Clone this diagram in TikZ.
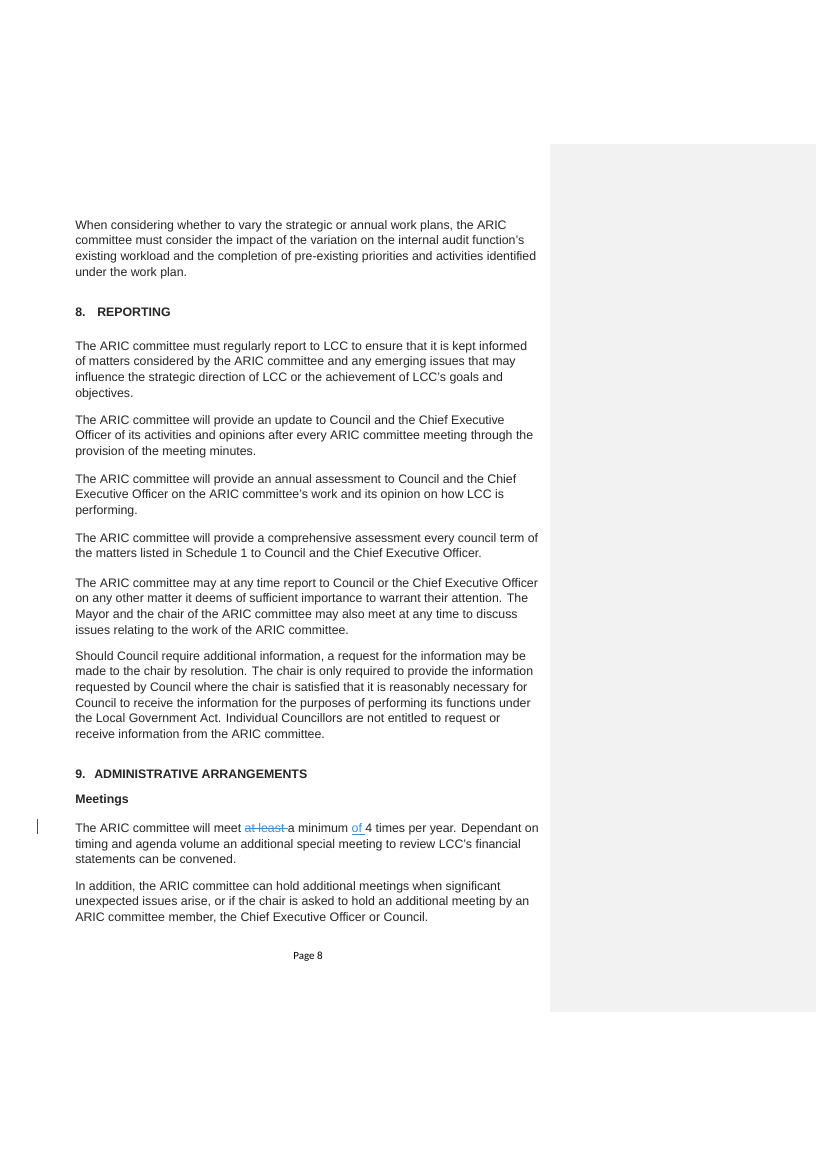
\documentclass[tikz,border=0pt]{standalone}
\usepackage{fontspec}
\setmainfont{Liberation Sans}
\newfontfamily\pgfont{Carlito}
\definecolor{trk}{HTML}{3A8FD8}
\newsavebox\trkbox
\newcommand\mystrk[1]{\sbox\trkbox{#1}\rlap{\rule[0.28em]{\wd\trkbox}{0.4pt}}\usebox\trkbox}
\newcommand\myuln[1]{\sbox\trkbox{#1}\rlap{\rule[-0.18em]{\wd\trkbox}{0.4pt}}\usebox\trkbox}
\begin{document}
\begin{tikzpicture}[x=0.7293pt,y=-0.7293pt,
  ln/.style={anchor=base west,inner sep=0pt,font=\fontsize{9}{11}\selectfont,text=black!85},
  hd/.style={ln,font=\fontsize{9}{11}\selectfont\bfseries}]
\useasboundingbox[fill=white] (0,0) rectangle (816,1155);
\fill[black!5] (550,144) rectangle (816,1012);
\foreach \t [count=\i from 0] in {%
{When considering whether to vary the strategic or annual work plans, the ARIC},
{committee must consider the impact of the variation on the internal audit function's},
{existing workload and the completion of pre-existing priorities and activities identified},
{under the work plan.}}
  \node[ln] (a\i) at (75,229+15.7*\i) {\t};
\node[hd] (h8n) at (75,316) {8.};
\node[hd] (h8) at (97,316) {REPORTING};
\foreach \t [count=\i from 0] in {%
{The ARIC committee must regularly report to LCC to ensure that it is kept informed},
{of matters considered by the ARIC committee and any emerging issues that may},
{influence the strategic direction of LCC or the achievement of LCC's goals and},
{objectives.}}
  \node[ln] (b\i) at (75,350+15.7*\i) {\t};
\foreach \t [count=\i from 0] in {%
{The ARIC committee will provide an update to Council and the Chief Executive},
{Officer of its activities and opinions after every ARIC committee meeting through the},
{provision of the meeting minutes.}}
  \node[ln] (c\i) at (75,424+15.9*\i) {\t};
\foreach \t [count=\i from 0] in {%
{The ARIC committee will provide an annual assessment to Council and the Chief},
{Executive Officer on the ARIC committee's work and its opinion on how LCC is},
{performing.}}
  \node[ln] (d\i) at (75,483+15.9*\i) {\t};
\foreach \t [count=\i from 0] in {%
{The ARIC committee will provide a comprehensive assessment every council term of},
{the matters listed in Schedule 1 to Council and the Chief Executive Officer.}}
  \node[ln] (e\i) at (75,542+15.9*\i) {\t};
\foreach \t [count=\i from 0] in {%
{The ARIC committee may at any time report to Council or the Chief Executive Officer},
{on any other matter it deems of sufficient importance to warrant their attention. The},
{Mayor and the chair of the ARIC committee may also meet at any time to discuss},
{issues relating to the work of the ARIC committee.}}
  \node[ln] (f\i) at (75,587+15.7*\i) {\t};
\foreach \t [count=\i from 0] in {%
{Should Council require additional information, a request for the information may be},
{made to the chair by resolution. The chair is only required to provide the information},
{requested by Council where the chair is satisfied that it is reasonably necessary for},
{Council to receive the information for the purposes of performing its functions under},
{the Local Government Act. Individual Councillors are not entitled to request or},
{receive information from the ARIC committee.}}
  \node[ln] (g\i) at (75,660+15.7*\i) {\t};
\node[hd] (h9n) at (75,778) {9.};
\node[hd] (h9) at (94,778) {ADMINISTRATIVE ARRANGEMENTS};
\node[hd] (mt) at (75,803) {Meetings};
\node[ln] (k0) at (75,832) {The ARIC committee will meet {\color{trk}\mystrk{at least }}a minimum {\color{trk}\myuln{of }}4 times per year. Dependant on};
\node[ln] (k1) at (75,848) {timing and agenda volume an additional special meeting to review LCC's financial};
\node[ln] (k2) at (75,863.5) {statements can be convened.};
\draw[black!70,line width=0.6pt] (37,819) -- (37,834);
\foreach \t [count=\i from 0] in {%
{In addition, the ARIC committee can hold additional meetings when significant},
{unexpected issues arise, or if the chair is asked to hold an additional meeting by an},
{ARIC committee member, the Chief Executive Officer or Council.}}
  \node[ln] (m\i) at (75,890+15.9*\i) {\t};
\node[anchor=base,inner sep=0pt,font=\pgfont\fontsize{8}{10}\selectfont] (pg) at (308,959) {Page 8};
\end{tikzpicture}
\end{document}
